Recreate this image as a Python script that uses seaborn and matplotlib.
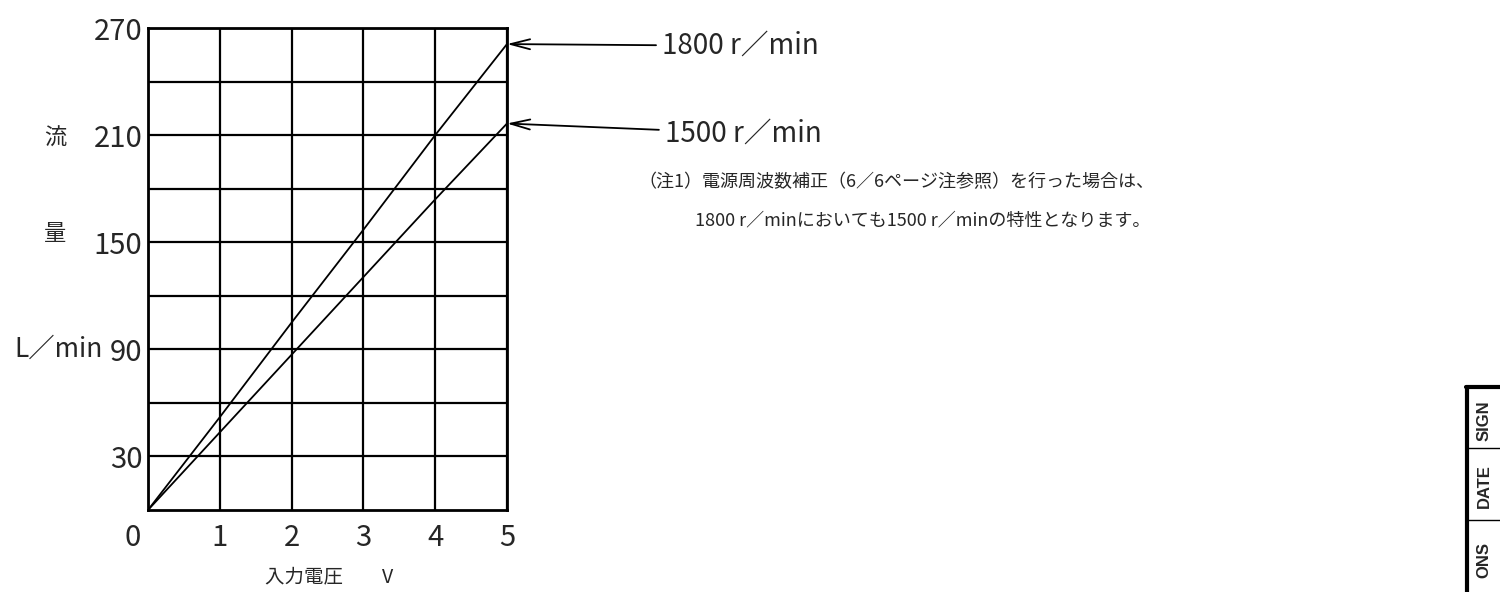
import matplotlib

matplotlib.use("Agg")
import matplotlib.pyplot as plt
import matplotlib.transforms as mtransforms
import numpy as np
import pandas as pd
import seaborn as sns

# datos
voltaje = [0, 1, 2, 3, 4, 5]
caudal_1800 = [0, 52, 105, 157, 210, 261]
caudal_1500 = [0, 43.5, 87, 130.5, 174, 216.5]
etiquetas_y = [30, 90, 150, 210, 270]
rejilla_y = [30, 60, 90, 120, 150, 180, 210, 240]
etiquetas_x = ["0", "1", "2", "3", "4", "5"]

nota_1 = "（注1）電源周波数補正（6／6ページ注参照）を行った場合は、"
nota_2 = "1800 r／minにおいても1500 r／minの特性となります。"

df = pd.DataFrame(
    {
        "voltaje": voltaje * 2,
        "caudal": caudal_1800 + caudal_1500,
        "velocidad": ["1800 r／min"] * len(voltaje) + ["1500 r／min"] * len(voltaje),
    }
)

sns.set_style("white")
plt.rcParams["font.family"] = ["Noto Sans CJK JP", "DejaVu Sans"]

fig = plt.figure(figsize=(15, 5.92), dpi=100)
ax = fig.add_axes([148 / 1500, 1 - 510 / 592, 359 / 1500, 482 / 592])

sns.lineplot(
    data=df,
    x="voltaje",
    y="caudal",
    hue="velocidad",
    palette=["black", "black"],
    linewidth=1.3,
    legend=False,
    ax=ax,
)

ax.set_xlim(0, 5)
ax.set_ylim(0, 270)
ax.set_xticks(range(len(etiquetas_x)))
ax.set_xticklabels(etiquetas_x, fontsize=21)
ax.set_yticks(etiquetas_y)
ax.set_yticklabels([str(v) for v in etiquetas_y], fontsize=21)
ax.set_yticks(rejilla_y, minor=True)
ax.tick_params(axis="both", which="both", length=0)
ax.tick_params(axis="x", pad=9)
ax.tick_params(axis="y", pad=4)
ax.grid(True, which="both", color="black", linewidth=1.6)
for s in ax.spines.values():
    s.set_color("black")
    s.set_linewidth(2)
ax.set_xlabel("")
ax.set_ylabel("")

# la etiqueta "0" del origen va corrida a la izquierda
desplaza = mtransforms.ScaledTranslation(-0.15, 0, fig.dpi_scale_trans)
etiq0 = ax.get_xticklabels()[0]
etiq0.set_transform(etiq0.get_transform() + desplaza)

# titulo del eje y en tres piezas
tr = ax.get_yaxis_transform()
ax.text(-0.259, 208, "流", transform=tr, ha="center", va="center", fontsize=16)
ax.text(-0.259, 155, "量", transform=tr, ha="center", va="center", fontsize=16)
ax.text(-0.372, 90, "L／min", transform=tr, ha="left", va="center", fontsize=19)

fig.text(329 / 1500, 1 - 577 / 592, "入力電圧　　V", ha="center", va="center", fontsize=14)

# flechas con las velocidades
flecha = dict(arrowstyle="->, head_length=0.7, head_width=0.18", color="black",
              lw=1.3, shrinkA=2, shrinkB=0)
ax.annotate("1800 r／min", xy=(5, caudal_1800[-1]), xytext=(7.16, caudal_1800[-1] - 1),
            fontsize=20, ha="left", va="center", arrowprops=flecha, annotation_clip=False)
ax.annotate("1500 r／min", xy=(5, caudal_1500[-1]), xytext=(7.2, 211),
            fontsize=20, ha="left", va="center", arrowprops=flecha, annotation_clip=False)

fig.text(638 / 1500, 1 - 182 / 592, nota_1, ha="left", va="center", fontsize=13)
fig.text(695 / 1500, 1 - 220 / 592, nota_2, ha="left", va="center", fontsize=13)

# cajetin girado en la esquina derecha
def px(x, y):
    return x / 1500, 1 - y / 592

fig.add_artist(plt.Line2D(*zip(px(1467, 387), px(1467, 600)), color="black", lw=3))
fig.add_artist(plt.Line2D(*zip(px(1466, 387), px(1500, 387)), color="black", lw=3))
for yy in [448, 520]:
    fig.add_artist(plt.Line2D(*zip(px(1467, yy), px(1500, yy)), color="black", lw=1))
for txt, yy in [("SIGN", 421), ("DATE", 486), ("ONS", 560)]:
    fig.text(*px(1484, yy), txt, rotation=90, ha="center", va="center", fontsize=12,
             fontweight="bold", family=["Liberation Sans", "DejaVu Sans"])

fig.savefig("out.png", dpi=100)
